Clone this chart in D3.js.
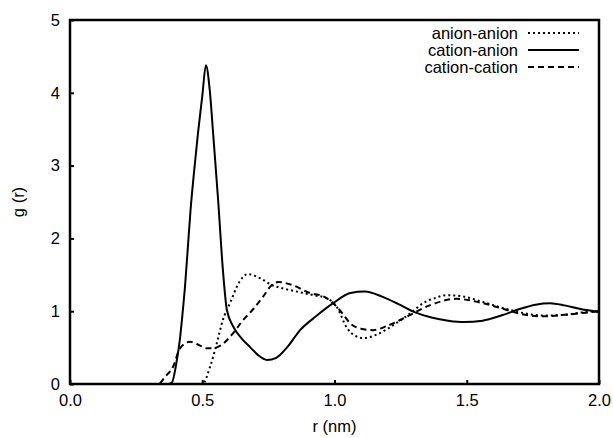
<!DOCTYPE html>
<html>
<head>
<meta charset="utf-8">
<script src="https://cdn.jsdelivr.net/npm/d3@7/dist/d3.min.js"></script>
<style>
  body { margin: 0; background: #fff; }
  text { font-family: "Liberation Sans", Arial, sans-serif; fill: #000; }
</style>
</head>
<body>
<div id="chart"></div>
<script>
// g(r) data
var caR = [0, 0.37, 0.385, 0.404, 0.415, 0.425, 0.435, 0.445, 0.456, 0.47, 0.484, 0.50, 0.514, 0.528, 0.541, 0.56, 0.578, 0.593, 0.617, 0.65, 0.68, 0.71, 0.745, 0.78, 0.82, 0.87, 0.93, 0.995, 1.06, 1.115, 1.18, 1.24, 1.30, 1.37, 1.43, 1.49, 1.56, 1.63, 1.70, 1.76, 1.815, 1.87, 1.93, 2.0];
var caG = [0, 0, 0.02, 0.33, 0.6, 0.95, 1.35, 1.85, 2.4, 2.95, 3.45, 3.95, 4.38, 4.05, 3.45, 2.53, 1.57, 1.02, 0.79, 0.62, 0.51, 0.40, 0.33, 0.36, 0.5, 0.74, 0.93, 1.11, 1.25, 1.27, 1.2, 1.1, 0.99, 0.91, 0.87, 0.85, 0.87, 0.94, 1.03, 1.09, 1.11, 1.08, 1.03, 0.99];

var aaR = [0, 0.50, 0.53, 0.555, 0.578, 0.605, 0.64, 0.673, 0.72, 0.763, 0.82, 0.87, 0.92, 0.97, 1.01, 1.047, 1.08, 1.11, 1.16, 1.235, 1.29, 1.335, 1.38, 1.425, 1.49, 1.55, 1.64, 1.72, 1.79, 1.87, 1.95, 2.0];
var aaG = [0, 0, 0.24, 0.56, 0.88, 1.11, 1.40, 1.51, 1.45, 1.36, 1.30, 1.26, 1.22, 1.18, 1.05, 0.77, 0.66, 0.63, 0.68, 0.84, 0.98, 1.11, 1.18, 1.22, 1.20, 1.14, 1.04, 0.97, 0.94, 0.95, 0.99, 1.0];

var ccR = [0, 0.333, 0.36, 0.39, 0.416, 0.454, 0.49, 0.517, 0.537, 0.57, 0.617, 0.655, 0.693, 0.73, 0.763, 0.787, 0.84, 0.907, 0.96, 0.995, 1.03, 1.06, 1.10, 1.146, 1.20, 1.26, 1.36, 1.46, 1.55, 1.64, 1.72, 1.79, 1.87, 1.95, 2.0];
var ccG = [0, 0, 0.1, 0.24, 0.49, 0.58, 0.53, 0.49, 0.49, 0.53, 0.70, 0.88, 1.03, 1.2, 1.36, 1.40, 1.36, 1.25, 1.2, 1.11, 0.97, 0.83, 0.76, 0.74, 0.8, 0.9, 1.08, 1.17, 1.12, 1.03, 0.95, 0.93, 0.95, 0.98, 1.0];

var xTicks = [0, 0.5, 1.0, 1.5, 2.0];
var yTicks = [0, 1, 2, 3, 4, 5];
var seriesNames = ["anion-anion", "cation-anion", "cation-cation"];

var width = 613, height = 438;
var margin = {top: 20, left: 70, bottom: 54, right: 14};

var svg = d3.select("#chart").append("svg")
    .attr("width", width).attr("height", height);

var x = d3.scaleLinear().domain([0, 2]).range([margin.left, width - margin.right]);
var y = d3.scaleLinear().domain([0, 5]).range([height - margin.bottom, margin.top]);

var series = [
    {name: seriesNames[0], r: aaR, g: aaG, dash: "2,3"},
    {name: seriesNames[1], r: caR, g: caG, dash: null},
    {name: seriesNames[2], r: ccR, g: ccG, dash: "6,4"}
];

var line = d3.line()
    .x(function(d){ return x(d[0]); })
    .y(function(d){ return y(d[1]); })
    .curve(d3.curveMonotoneX);

svg.selectAll("path.curve")
    .data(series)
    .enter().append("path")
    .attr("class", "curve")
    .attr("d", function(s){ return line(d3.zip(s.r, s.g)); })
    .attr("fill", "none")
    .attr("stroke", "#000")
    .attr("stroke-width", 2)
    .attr("stroke-dasharray", function(s){ return s.dash; });

// axes: inward ticks, labels drawn separately
var xAxis = svg.append("g")
    .attr("transform", "translate(0," + y(0) + ")")
    .call(d3.axisBottom(x).tickValues(xTicks).tickSize(-4).tickFormat(d3.format(".1f")).tickPadding(10));
var yAxis = svg.append("g")
    .attr("transform", "translate(" + x(0) + ",0)")
    .call(d3.axisLeft(y).tickValues(yTicks).tickSize(-4).tickFormat(d3.format("d")).tickPadding(10));

[xAxis, yAxis].forEach(function(a){
    a.select(".domain").remove();
    a.selectAll(".tick line").attr("stroke", "#000").attr("stroke-width", 2);
    a.selectAll(".tick text").style("font-size", "16.5px")
        .style("font-family", "'Liberation Sans', Arial, sans-serif").attr("fill", "#000");
});

// frame
svg.append("rect")
    .attr("x", x(0)).attr("y", y(5))
    .attr("width", x(2) - x(0)).attr("height", y(0) - y(5))
    .attr("fill", "none").attr("stroke", "#000").attr("stroke-width", 2.5);

svg.append("text")
    .attr("x", (x(0) + x(2)) / 2).attr("y", 432)
    .attr("text-anchor", "middle").style("font-size", "16.5px")
    .text("r (nm)");

svg.append("text")
    .attr("transform", "translate(24," + (y(0) + y(5)) / 2 + ") rotate(-90)")
    .attr("text-anchor", "middle").style("font-size", "16.5px")
    .text("g (r)");

// legend
var legend = svg.selectAll("g.legend")
    .data(series)
    .enter().append("g")
    .attr("class", "legend")
    .attr("transform", function(d, i){ return "translate(0," + (33 + i * 17) + ")"; });

legend.append("text")
    .attr("x", 518).attr("dy", "0.35em")
    .attr("text-anchor", "end").style("font-size", "16.5px")
    .text(function(d){ return d.name; });

legend.append("line")
    .attr("x1", 528).attr("x2", 579)
    .attr("stroke", "#000").attr("stroke-width", 2)
    .attr("stroke-dasharray", function(d){ return d.dash; });
</script>
</body>
</html>
